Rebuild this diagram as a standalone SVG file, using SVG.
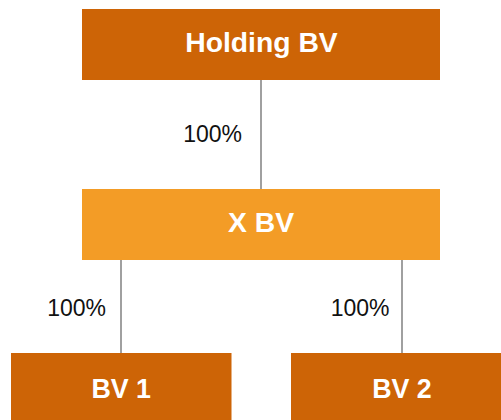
<svg xmlns="http://www.w3.org/2000/svg" width="501" height="420" viewBox="0 0 501 420">
  <style>
    .box-dark { fill: #CD6406; }
    .box-light { fill: #F39C26; }
    .name { font-family: "Liberation Sans", Arial, sans-serif; font-weight: bold; font-size: 28.3px; fill: #FFFFFF; text-anchor: middle; }
    .name-sm { font-size: 26.8px; }
    .pct { font-family: "Liberation Sans", Arial, sans-serif; font-size: 23px; fill: #111111; text-anchor: end; }
    .link { stroke: #A0A0A0; stroke-width: 2; fill: none; }
  </style>
  <rect width="501" height="420" fill="#FFFFFF"/>

  <!-- ownership lines and percentages -->
  <g id="connectors">
    <line class="link" x1="261" y1="80" x2="261" y2="189"/>
    <line class="link" x1="121" y1="260" x2="121" y2="353"/>
    <line class="link" x1="402" y1="260" x2="402" y2="353"/>
    <text class="pct" x="242" y="142">100%</text>
    <text class="pct" x="106" y="316">100%</text>
    <text class="pct" x="389.5" y="316">100%</text>
  </g>

  <g id="holding-bv">
    <rect class="box-dark" x="82" y="9" width="358" height="71"/>
    <text class="name" x="261.5" y="52.3">Holding BV</text>
  </g>

  <g id="x-bv">
    <rect class="box-light" x="82" y="189" width="358" height="71"/>
    <text class="name" x="261" y="232.3">X BV</text>
  </g>

  <g id="bv-1">
    <rect class="box-dark" x="11" y="353" width="220.5" height="70"/>
    <text class="name name-sm" x="121.2" y="397.5">BV 1</text>
  </g>

  <g id="bv-2">
    <rect class="box-dark" x="291" y="353" width="222" height="70"/>
    <text class="name name-sm" x="402" y="397.5">BV 2</text>
  </g>
</svg>
